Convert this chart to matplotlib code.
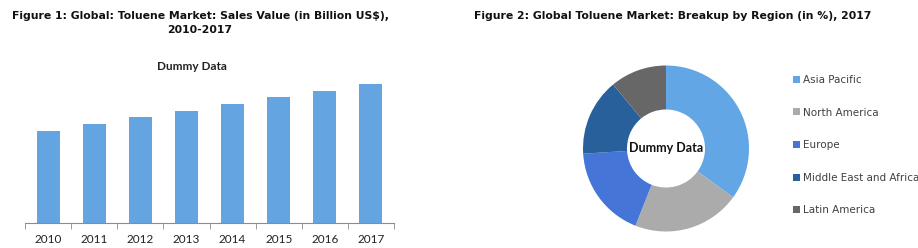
import matplotlib.pyplot as plt
import numpy as np

# data
years = ["2010", "2011", "2012", "2013", "2014", "2015", "2016", "2017"]
sales = [9.2, 9.9, 10.6, 11.2, 11.9, 12.6, 13.2, 13.9]

regions = ["Asia Pacific", "North America", "Europe", "Middle East and Africa", "Latin America"]
shares = [35, 21, 18, 15, 11]
region_colors = ["#62A6E6", "#ABABAB", "#4575D6", "#27609A", "#676767"]

W, H = 918, 248
fig = plt.figure(figsize=(W / 100, H / 100), dpi=100)


def box(x0, y0, x1, y1):
    # pixel box (top-left origin) -> figure fraction rect
    return [x0 / W, 1 - y1 / H, (x1 - x0) / W, (y1 - y0) / H]


title_font = "DejaVu Sans"
body_font = "Lato"

# ---- Figure 1: bar chart ----
fig.text(200 / W, 1 - 16 / H, "Figure 1: Global: Toluene Market: Sales Value (in Billion US$),",
         ha="center", va="center", fontsize=7.8, fontweight="bold", family=title_font, color="#111111")
fig.text(200 / W, 1 - 30 / H, "2010-2017",
         ha="center", va="center", fontsize=7.8, fontweight="bold", family=title_font, color="#111111")
fig.text(192 / W, 1 - 67 / H, "Dummy Data", ha="center", va="center",
         fontsize=8.5, fontweight="bold", family=body_font, color="#222222")

ax = fig.add_axes(box(25, 75, 394, 223))
x = np.arange(len(years))
ax.bar(x, sales, width=0.5, color="#64A5E1")
ax.set_xlim(-0.5, len(years) - 0.5)
ax.set_ylim(0, 14.8)
ax.set_yticks([])
for s in ["top", "right", "left"]:
    ax.spines[s].set_visible(False)
ax.spines["bottom"].set_color("#8C8C8C")
ax.set_xticks(x)
ax.set_xticklabels(years, fontsize=8.5, family=body_font, color="#222222")
ax.tick_params(axis="x", which="major", length=0, pad=8)
ax.set_xticks(np.arange(-0.5, len(years)), minor=True)
ax.tick_params(axis="x", which="minor", length=4, color="#8C8C8C", direction="out")

# ---- Figure 2: donut ----
fig.text(474 / W, 1 - 16 / H, "Figure 2: Global Toluene Market: Breakup by Region (in %), 2017",
         ha="left", va="center", fontsize=7.8, fontweight="bold", family=title_font, color="#111111")

cx, cy, r = 666, 148.5, 83
ax2 = fig.add_axes(box(cx - r, cy - r, cx + r, cy + r))
wedges, _ = ax2.pie(shares, colors=region_colors, startangle=90, counterclock=False,
                    radius=1, wedgeprops=dict(width=0.53, edgecolor="none"))
ax2.set_xlim(-1, 1)
ax2.set_ylim(-1, 1)
ax2.set_aspect("equal")
ax2.axis("off")
ax2.text(0, 0, "Dummy Data", ha="center", va="center", fontsize=9,
         fontweight="bold", family=body_font, color="#111111")

fig.legend(wedges, regions, loc="upper left", bbox_to_anchor=(793 / W, 1 - 75 / H),
           frameon=False, prop=dict(family=title_font, size=7.5),
           handlelength=0.65, handleheight=0.65, handletextpad=0.35,
           labelspacing=2.17, borderaxespad=0, borderpad=0, labelcolor="#404040")

fig.savefig("out.png", dpi=100)
